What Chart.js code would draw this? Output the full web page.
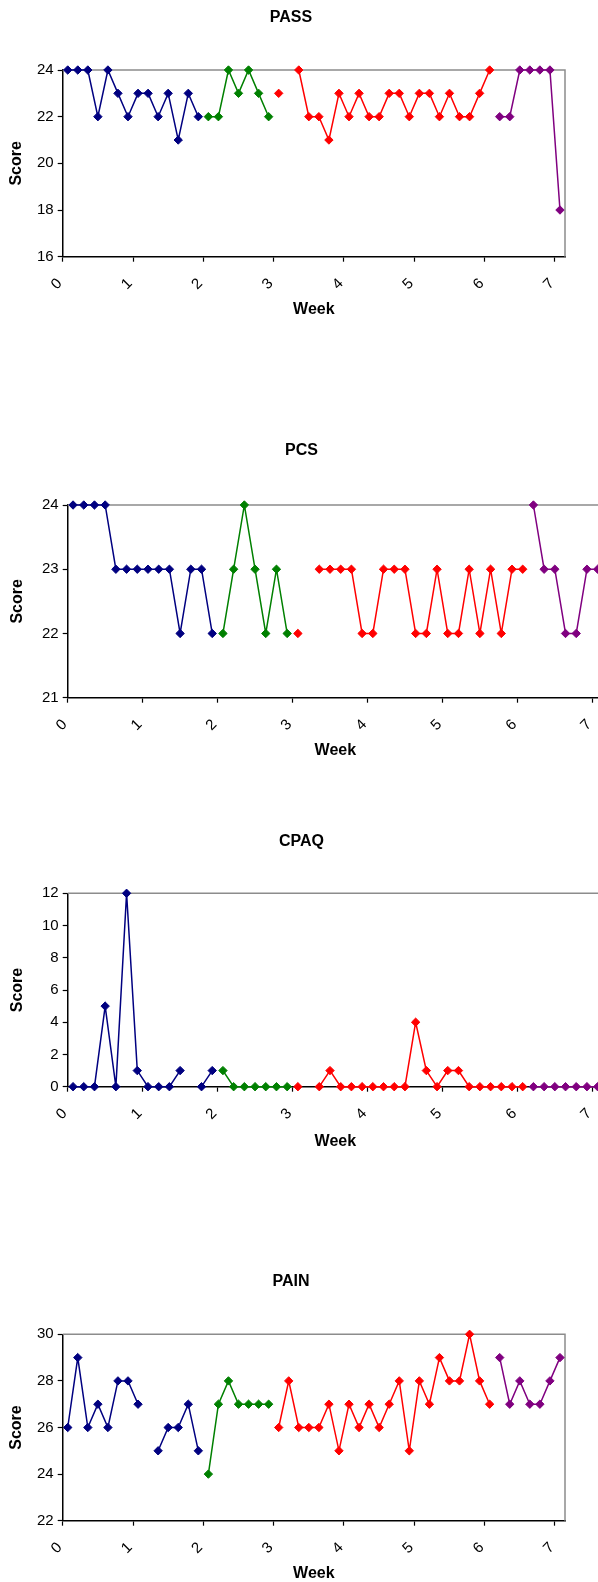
<!DOCTYPE html>
<html>
<head>
<meta charset="utf-8">
<script src="https://cdn.jsdelivr.net/npm/chart.js@4/dist/chart.umd.min.js"></script>
<style>
  html, body { margin: 0; padding: 0; background: #fff; overflow: hidden; }
  body { width: 598px; height: 1582px; position: relative; }
  canvas { position: absolute; left: 0; }
</style>
</head>
<body>
<canvas id="chart--pass" width="582" height="319" style="top:0px"></canvas>
<canvas id="chart--pcs" width="603" height="330" style="top:430px"></canvas>
<canvas id="chart--cpaq" width="603" height="331" style="top:820px"></canvas>
<canvas id="chart--pain" width="582" height="323" style="top:1260px"></canvas>
<script>
// daily scores, one array per phase; phases start on these day numbers
const weekTicks = [0, 1, 2, 3, 4, 5, 6, 7];
const totalDays = 50;
const phaseStart = [0, 14, 21, 43];
const phaseColors = ["#000080", "#008000", "#ff0000", "#800080"];

const passA = [24, 24, 24, 22, 24, 23, 22, 23, 23, 22, 23, 21, 23, 22];
const passB = [22, 22, 24, 23, 24, 23, 22];
const passC = [23, null, 24, 22, 22, 21, 23, 22, 23, 22, 22, 23, 23, 22, 23, 23, 22, 23, 22, 22, 23, 24];
const passD = [22, 22, 24, 24, 24, 24, 18];

const pcsA = [24, 24, 24, 24, 23, 23, 23, 23, 23, 23, 22, 23, 23, 22];
const pcsB = [22, 23, 24, 23, 22, 23, 22];
const pcsC = [22, null, 23, 23, 23, 23, 22, 22, 23, 23, 23, 22, 22, 23, 22, 22, 23, 22, 23, 22, 23, 23];
const pcsD = [24, 23, 23, 22, 22, 23, 23];

const cpaqA = [0, 0, 0, 5, 0, 12, 1, 0, 0, 0, 1, null, 0, 1];
const cpaqB = [1, 0, 0, 0, 0, 0, 0];
const cpaqC = [0, null, 0, 1, 0, 0, 0, 0, 0, 0, 0, 4, 1, 0, 1, 1, 0, 0, 0, 0, 0, 0];
const cpaqD = [0, 0, 0, 0, 0, 0, 0];

const painA = [26, 29, 26, 27, 26, 28, 28, 27, null, 25, 26, 26, 27, 25];
const painB = [24, 27, 28, 27, 27, 27, 27];
const painC = [26, 28, 26, 26, 26, 27, 25, 27, 26, 27, 26, 27, 28, 25, 28, 27, 29, 28, 28, 30, 28, 27];
const painD = [29, 27, 28, 27, 27, 28, 29];

const font = "'Liberation Sans', Arial, sans-serif";

// gray frame on top and right of the plot area, like the spreadsheet original
const plotFrame = {
    id: "plotFrame",
    beforeDatasetsDraw(chart) {
        const { ctx, chartArea: a } = chart;
        ctx.save();
        ctx.strokeStyle = "#8c8c8c";
        ctx.lineWidth = 1.5;
        ctx.beginPath();
        ctx.moveTo(a.left, a.top);
        ctx.lineTo(a.right, a.top);
        ctx.lineTo(a.right, a.bottom);
        ctx.stroke();
        ctx.restore();
    }
};

const panels = [
    { id: "pass", title: "PASS", series: [passA, passB, passC, passD], min: 16, max: 24, step: 2,
      left: 62.7, padTop: 8.4, padBottom: 42.4, xHeight: 62.3, rightGap: 17, scorePad: 6.5 },
    { id: "pcs", title: "PCS", series: [pcsA, pcsB, pcsC, pcsD], min: 21, max: 24, step: 1,
      left: 67.7, padTop: 11.4, padBottom: 44.4, xHeight: 62.3, rightGap: 0, scorePad: 8 },
    { id: "cpaq", title: "CPAQ", series: [cpaqA, cpaqB, cpaqC, cpaqD], min: 0, max: 12, step: 2,
      left: 67.7, padTop: 12.4, padBottom: 41.7, xHeight: 64.3, rightGap: 0, scorePad: 8 },
    { id: "pain", title: "PAIN", series: [painA, painB, painC, painD], min: 22, max: 30, step: 2,
      left: 62.7, padTop: 12.4, padBottom: 42.7, xHeight: 62.3, rightGap: 17, scorePad: 6.5 },
];

for (const p of panels) {
    const datasets = p.series.map((values, k) => ({
        data: values.map((v, d) => ({ x: (phaseStart[k] + d + 0.5) / 7, y: v })),
        borderColor: phaseColors[k],
        backgroundColor: phaseColors[k],
        pointBackgroundColor: phaseColors[k],
        pointStyle: "rectRot",
        pointRadius: 4.2,
        pointBorderWidth: 1,
        borderWidth: 1.5,
        tension: 0,
        spanGaps: false,
        clip: false,
    }));

    new Chart(document.querySelector(`#chart--${p.id}`), {
        type: "line",
        data: { datasets },
        plugins: [plotFrame],
        options: {
            responsive: false,
            animation: false,
            layout: { padding: 0, autoPadding: false },
            plugins: {
                legend: { display: false },
                tooltip: { enabled: false },
                title: {
                    display: true,
                    text: p.title,
                    color: "#000",
                    font: { family: font, size: 16, weight: "bold" },
                    padding: { top: p.padTop, bottom: p.padBottom },
                },
            },
            scales: {
                x: {
                    type: "linear",
                    min: 0,
                    max: totalDays / 7,
                    afterBuildTicks: s => { s.ticks = weekTicks.map(v => ({ value: v })); },
                    afterFit: s => {
                        s.height = p.xHeight;
                        s.paddingLeft = 0;
                        s.paddingRight = 0;
                    },
                    ticks: {
                        autoSkip: false,
                        minRotation: 45,
                        maxRotation: 45,
                        padding: 13,
                        labelOffset: -3,
                        color: "#000",
                        font: { family: font, size: 15 },
                    },
                    grid: { drawOnChartArea: false, tickLength: 5, tickColor: "#000", tickWidth: 1.2 },
                    border: { color: "#000", width: 1.5 },
                    title: {
                        display: true,
                        text: "Week",
                        color: "#000",
                        font: { family: font, size: 16, weight: "bold" },
                        padding: { top: 0, bottom: 0 },
                    },
                },
                y: {
                    min: p.min,
                    max: p.max,
                    afterFit: s => { s.width = p.left; },
                    ticks: {
                        stepSize: p.step,
                        padding: 4,
                        color: "#000",
                        font: { family: font, size: 15 },
                    },
                    grid: { drawOnChartArea: false, tickLength: 5, tickColor: "#000", tickWidth: 1.2 },
                    border: { color: "#000", width: 1.5 },
                    title: {
                        display: true,
                        text: "Score",
                        color: "#000",
                        font: { family: font, size: 16, weight: "bold" },
                        padding: { top: p.scorePad, bottom: 0 },
                    },
                },
                gap: {
                    position: "right",
                    afterFit: s => { s.width = p.rightGap; },
                    ticks: { display: false },
                    grid: { display: false },
                    border: { display: false },
                },
            },
        },
    });
}
</script>
</body>
</html>
